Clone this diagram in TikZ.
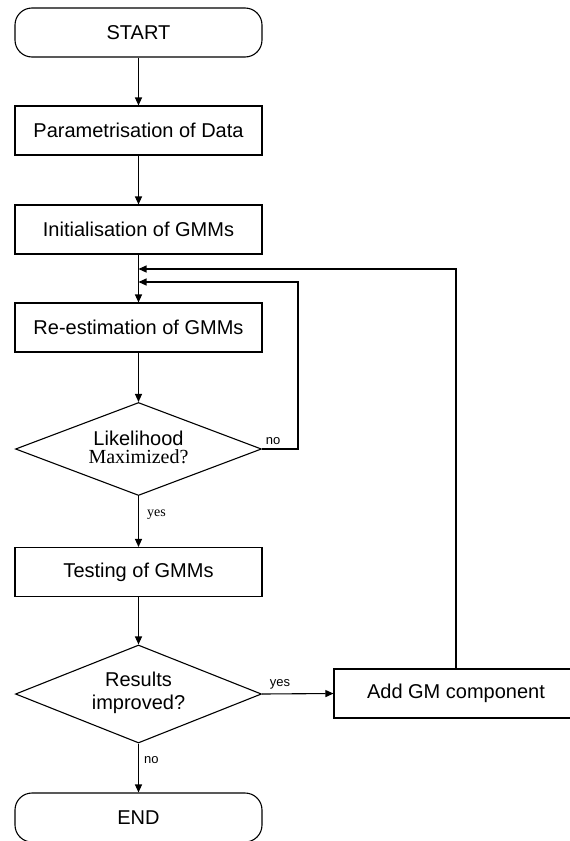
\documentclass[tikz,border=0pt]{standalone}
\usepackage{fontspec}
\setmainfont{Liberation Sans}
\newfontfamily\serifface{Liberation Serif}
\usetikzlibrary{arrows.meta,shapes.geometric}
\begin{document}
\begin{tikzpicture}[x=1pt,y=-1pt,
  every node/.style={font=\fontsize{20}{24}\selectfont},
  line/.style={line width=1.1pt},
  arr/.style={line, -{Triangle[length=8pt,width=7pt]}},
  procbox/.style={draw, line width=1.1pt, minimum width=247pt, minimum height=49pt, inner sep=0pt},
  termbox/.style={draw, line width=1.1pt, minimum width=247pt, minimum height=49pt, inner sep=0pt, rounded corners=17pt},
  decbox/.style={draw, line width=1.1pt, shape=diamond, aspect=2.6, inner sep=0pt},
  smalllab/.style={font=\fontsize{13}{15}\selectfont, inner sep=0pt}
]
\useasboundingbox (0,0) rectangle (570,841);

\node[termbox] (start) at (138.5,32.5) {START};
\node[procbox] (param) at (138.5,130.5) {Parametrisation of Data};
\node[procbox] (init) at (138.5,229.5) {Initialisation of GMMs};
\node[procbox] (reest) at (138.5,327.5) {Re-estimation of GMMs};
\node[decbox, minimum width=246pt, minimum height=93pt] (lik) at (138.5,449) {};
\node[align=center, inner sep=0pt] (liktext) at (138.5,447) {Likelihood\\[-6pt]{\serifface Maximized?}};
\node[procbox] (test) at (138.5,572) {Testing of GMMs};
\node[decbox, minimum width=246pt, minimum height=98pt] (res) at (138.5,694) {};
\node[align=center, inner sep=0pt] (restext) at (138.5,693) {Results\\[-1pt]improved?};
\node[procbox, minimum width=244pt] (addgm) at (456,693.5) {Add GM component};
\node[termbox] (end) at (138.5,817.5) {END};

\coordinate (m1) at (138.5,269);
\coordinate (m2) at (138.5,282);
\coordinate (noturn) at (298,282);

\draw[arr] (start) -- (param);
\draw[arr] (param) -- (init);
\draw[arr] (init) -- (reest);
\draw[arr] (reest) -- (lik.north);
\draw[arr] (lik.east) -| (noturn) -- (m2);
\node[smalllab, anchor=south] (nolab1) at (273,445) {no};
\draw[arr] (addgm.north) |- (m1);
\draw[arr] (lik.south) -- (test);
\node[anchor=west, inner sep=0pt, font=\serifface\fontsize{14}{16}\selectfont] (yeslab1) at (147,515) {yes};
\draw[arr] (test) -- (res.north);
\draw[arr] (res.east) -- (addgm.west);
\node[smalllab, anchor=south] (yeslab2) at (280,689) {yes};
\draw[arr] (res.south) -- (end);
\node[smalllab, anchor=west] (nolab2) at (144,760) {no};
\end{tikzpicture}
\end{document}
